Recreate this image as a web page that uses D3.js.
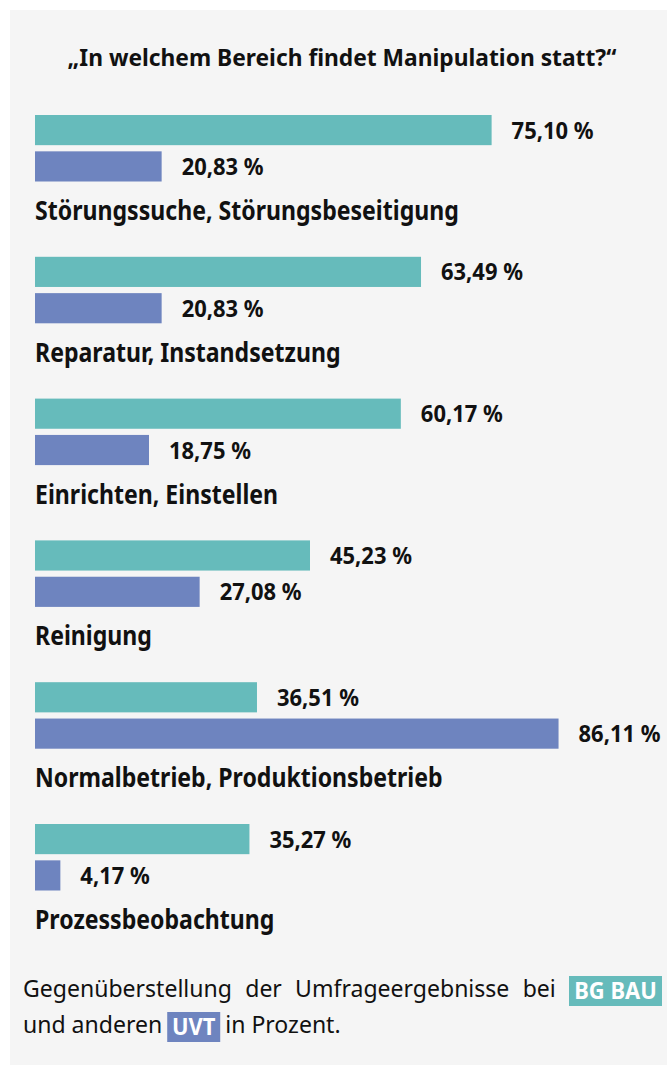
<!DOCTYPE html>
<html>
<head>
<meta charset="utf-8">
<script src="https://cdn.jsdelivr.net/npm/d3@7"></script>
<style>
  body { margin: 0; background: #fff; }
  text { font-family: "Noto Sans", "Open Sans", sans-serif; }
</style>
</head>
<body>
<div id="chart"></div>
<script>
// data
var categories = [
    "Störungssuche, Störungsbeseitigung",
    "Reparatur, Instandsetzung",
    "Einrichten, Einstellen",
    "Reinigung",
    "Normalbetrieb, Produktionsbetrieb",
    "Prozessbeobachtung"
];
var seriesNames = ["BG BAU", "UVT"];
var bgBau = [75.10, 63.49, 60.17, 45.23, 36.51, 35.27];
var uvt = [20.83, 20.83, 18.75, 27.08, 86.11, 4.17];
var title = "„In welchem Bereich findet Manipulation statt?“";
var captionLine1 = ["Gegenüberstellung", "der", "Umfrageergebnisse", "bei"];
var captionLine2a = "und anderen";
var captionLine2b = "in Prozent.";

var colors = { "BG BAU": "#66bbbb", "UVT": "#6e84bf" };

var width = 667, height = 1066;

var svg = d3.select("#chart")
    .append("svg")
        .attr("width", width)
        .attr("height", height);

// grey panel
svg.append("rect")
    .attr("x", 10).attr("y", 10)
    .attr("width", width - 10).attr("height", 1055)
    .attr("fill", "#f5f5f5");

// the original uses a condensed font, so squeeze the text horizontally
function measure(str, size, weight) {
    var t = svg.append("text").attr("font-size", size).attr("font-weight", weight).text(str);
    var w = t.node().getComputedTextLength();
    t.remove();
    return w;
}
var fBold = 424 / measure(categories[0], 26, "bold");
var fVal = 82 / measure("75,10 %", 24, "bold");
var fTitle = 549 / measure(title, 24, "bold");
var fReg = 209 / measure(captionLine1[0], 24, "normal");

function label(parent, str, x, y, size, weight, f, anchor, fill) {
    var g = parent.append("g")
        .attr("transform", "translate(" + x + "," + y + ") scale(" + f + ",1)");
    var t = g.append("text")
        .attr("font-size", size)
        .attr("font-weight", weight)
        .attr("text-anchor", anchor || "start")
        .attr("fill", fill || "#111")
        .text(str);
    return t.node().getComputedTextLength() * f;
}

label(svg, title, 342, 66, 24, "bold", fTitle, "middle");

var x = d3.scaleLinear()
    .domain([0, 100])
    .range([35, 643]);

var y = d3.scaleBand()
    .domain(categories)
    .range([115, 115 + 6 * 141.8])
    .padding(0);

var sub = d3.scaleBand()
    .domain(seriesNames)
    .range([0, 66.5])
    .paddingInner(0.17);

var rows = categories.map(function(c, i) {
    return { cat: c, values: [
        { name: "BG BAU", v: bgBau[i] },
        { name: "UVT", v: uvt[i] }
    ]};
});

var fmt = function(v) { return d3.format(".2f")(v).replace(".", ",") + " %"; };

var group = svg.selectAll(".group")
    .data(rows)
    .enter()
    .append("g")
        .attr("class", "group")
        .attr("transform", function(d) { return "translate(0," + y(d.cat) + ")"; });

group.selectAll("rect")
    .data(function(d) { return d.values; })
    .enter()
    .append("rect")
        .attr("x", x(0))
        .attr("y", function(d) { return sub(d.name); })
        .attr("width", function(d) { return x(d.v) - x(0); })
        .attr("height", sub.bandwidth())
        .attr("fill", function(d) { return colors[d.name]; });

group.each(function(d) {
    var g = d3.select(this);
    d.values.forEach(function(v) {
        label(g, fmt(v.v), x(v.v) + 20, sub(v.name) + sub.bandwidth() / 2 + 8.5, 24, "bold", fVal);
    });
    label(g, d.cat, 35, 105, 26, "bold", fBold);
});

// footer caption, first line justified
var foot = svg.append("g");
var boxX = 569;
var widths = captionLine1.map(function(w) { return measure(w, 24, "normal") * fReg; });
var gap = (boxX - 23 - d3.sum(widths)) / captionLine1.length;
var cx = 23;
captionLine1.forEach(function(w, i) {
    label(foot, w, cx, 997, 24, "normal", fReg);
    cx += widths[i] + gap;
});

function tag(name, bx, by, bw) {
    foot.append("rect")
        .attr("x", bx).attr("y", by)
        .attr("width", bw).attr("height", 30)
        .attr("fill", colors[name]);
    label(foot, name, bx + bw / 2, by + 23, 24, "bold", fVal, "middle", "#fff");
}
tag(seriesNames[0], boxX, 976, 93);

var w2 = label(foot, captionLine2a, 23, 1033, 24, "normal", fReg);
tag(seriesNames[1], 23 + w2 + 5, 1012, 53);
label(foot, captionLine2b, 23 + w2 + 5 + 53 + 5, 1033, 24, "normal", fReg);
</script>
</body>
</html>
